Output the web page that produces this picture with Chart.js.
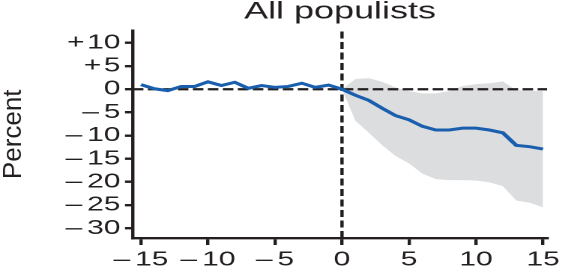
<!DOCTYPE html>
<html><head><meta charset="utf-8">
<script src="https://cdn.jsdelivr.net/npm/chart.js@4/dist/chart.umd.min.js"></script>
<style>html,body{margin:0;padding:0;background:#fff;overflow:hidden}
#c{display:block}</style>
</head><body>
<canvas id="c" width="381" height="267" style="width:571px;height:267px"></canvas>
<script>
// ---- data ----
const periods = [-15,-14,-13,-12,-11,-10,-9,-8,-7,-6,-5,-4,-3,-2,-1,0,1,2,3,4,5,6,7,8,9,10,11,12,13,14,15];
const estimate = [1.0,0.1,-0.3,0.6,0.6,1.6,0.8,1.5,0.2,0.8,0.4,0.6,1.3,0.4,0.9,0,-1.3,-2.4,-4.1,-5.7,-6.6,-8.0,-8.8,-8.8,-8.4,-8.4,-8.8,-9.4,-12.1,-12.4,-12.9];
const bandPeriods = [0,1,2,3,4,5,6,7,8,9,10,11,12,13,14,15];
const upperCI = [0,2.2,2.4,1.6,0.4,-0.4,-0.9,-0.9,-0.4,0.7,1.1,1.3,1.7,-0.2,-0.3,-0.4];
const lowerCI = [0,-6.8,-9.4,-12.1,-14.4,-16.0,-18.2,-19.4,-19.6,-19.6,-19.7,-20.1,-20.9,-24.0,-24.5,-25.5];
const xTickValues = [-15,-10,-5,0,5,10,15];
const xTickLabels = ['\u2013\u200615','\u2013\u200610','\u2013\u20065','0','5','10','15'];
const yTickValues = [10,5,0,-5,-10,-15,-20,-25,-30];
const yTickLabels = ['+\u200A10','+\u200A5','0','\u2013\u20065','\u2013\u200610','\u2013\u200615','\u2013\u200620','\u2013\u200625','\u2013\u200630'];
const xAxisRange = [-15.6, 15.3];
const yAxisRange = [-32.1, 12.65];
const titleText = 'All populists';
const yTitleText = 'Percent';

// ---- style ----
const STRETCH = 571 / 381;
const FONT = '"Liberation Sans", Arial, Helvetica, sans-serif';
const INK = '#231f20';
const BLUE = '#1a5fae';
const BAND = '#dcdddf';

const pts = (xs, ys) => xs.map((x, i) => ({x, y: ys[i]}));

const unstretchTitle = {
  id: 'unstretchTitle',
  beforeDraw(chart) {
    const s = chart.scales.y;
    if (s._unstretched) return;
    s._unstretched = true;
    const orig = s.drawTitle.bind(s);
    s.drawTitle = function () {
      const ctx = this.ctx;
      const t = this.options.title;
      const lh = (t.font.size || 12) * 1.2;
      const padTop = (t.padding && t.padding.top) || 0;
      const cx = this.left + padTop + lh / 2;
      ctx.save();
      ctx.translate(cx, 0);
      ctx.scale(1 / STRETCH, 1);
      ctx.translate(-cx, 0);
      orig();
      ctx.restore();
    };
  }
};

new Chart(document.getElementById('c'), {
  type: 'line',
  data: {
    datasets: [
      { label: 'estimate', data: pts(periods, estimate), borderColor: BLUE, borderWidth: 3,
        pointRadius: 0, tension: 0, fill: false, order: 0 },
      { label: 'zeroH', data: pts(xAxisRange, [0, 0]), borderColor: INK, borderWidth: 2.3,
        borderDash: [7, 3], pointRadius: 0, fill: false, order: 1 },
      { label: 'zeroV', data: pts([0, 0], yAxisRange), borderColor: INK, borderWidth: 2.2,
        borderDash: [7, 3.5], pointRadius: 0, fill: false, order: 1 },
      { label: 'upper', data: pts(bandPeriods, upperCI), borderWidth: 0, borderColor: 'rgba(0,0,0,0)',
        backgroundColor: BAND, pointRadius: 0, fill: '+1', order: 2 },
      { label: 'lower', data: pts(bandPeriods, lowerCI), borderWidth: 0, borderColor: 'rgba(0,0,0,0)',
        pointRadius: 0, fill: false, order: 3 }
    ]
  },
  options: {
    responsive: false,
    animation: false,
    devicePixelRatio: 2,
    layout: { padding: { left: 0, right: 16, top: 0, bottom: 0 } },
    plugins: {
      legend: { display: false },
      tooltip: { enabled: false },
      title: {
        display: true, text: titleText, fullSize: false, color: INK,
        font: { family: FONT, size: 24, weight: 'normal' },
        padding: { top: -2.5, bottom: 4.3 }
      }
    },
    scales: {
      x: {
        type: 'linear', min: xAxisRange[0], max: xAxisRange[1],
        border: { display: true, color: INK, width: 2.4 },
        grid: { display: true, drawOnChartArea: false, drawTicks: true, tickLength: 7, color: INK, lineWidth: 2.2 },
        ticks: { color: INK, font: { family: FONT, size: 20 }, padding: 3, maxRotation: 0, autoSkip: false,
          callback: (v) => { const i = xTickValues.indexOf(v); return i >= 0 ? xTickLabels[i] : ''; } },
        afterBuildTicks: (s) => { s.ticks = xTickValues.map(v => ({value: v})); },
        afterFit: (s) => { s.height = 29; }
      },
      y: {
        type: 'linear', min: yAxisRange[0], max: yAxisRange[1],
        border: { display: true, color: INK, width: 2.2 },
        grid: { display: true, drawOnChartArea: false, drawTicks: true, tickLength: 5.3, color: INK, lineWidth: 2.4 },
        ticks: { color: INK, font: { family: FONT, size: 20 }, padding: 3, autoSkip: false,
          callback: (v) => { const i = yTickValues.indexOf(v); return i >= 0 ? yTickLabels[i] : ''; } },
        afterBuildTicks: (s) => { s.ticks = yTickValues.map(v => ({value: v})); },
        title: { display: true, text: yTitleText, color: INK,
          font: { family: FONT, size: 26, weight: 'normal' }, padding: { top: -6.3, bottom: 0 } },
        afterFit: (s) => { s.width = 88.7; }
      }
    }
  },
  plugins: [unstretchTitle]
});
</script>
</body></html>
